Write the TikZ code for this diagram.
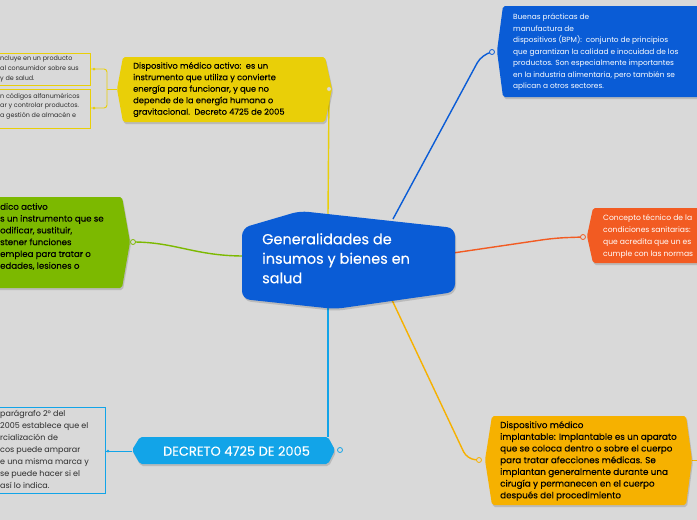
\documentclass[tikz,border=0pt]{standalone}
\usepackage{fontspec}
\setmainfont{Poppins}
\newfontfamily\medfont{Poppins}[FakeBold=0.2]
\definecolor{bg}{HTML}{D9D9D9}
\definecolor{cblue}{HTML}{0A5CD6}
\definecolor{cyellow}{HTML}{E9CF08}
\definecolor{cgreen}{HTML}{7CB900}
\definecolor{corange}{HTML}{F25B22}
\definecolor{camber}{HTML}{F6B100}
\definecolor{clight}{HTML}{12A4E8}
\definecolor{ctext}{HTML}{2B2B2B}
\begin{document}
\begin{tikzpicture}[x=1pt,y=-1pt,
  shadowed/.style={preaction={fill=black,opacity=0.14,transform canvas={xshift=1pt,yshift=-2pt}}},
  topic/.style={rounded corners=2pt,shadowed},
  txt/.style={anchor=north west,inner sep=0pt,align=left},
  conn/.style={line width=1.4pt},
  subconn/.style={line width=0.9pt},
  ring/.style={circle,draw,fill=bg,line width=0.8pt,minimum size=5pt,inner sep=0pt},
  smalldot/.style={circle,fill,minimum size=3pt,inner sep=0pt},
  subbox/.style={line width=1pt}]
\useasboundingbox (0,0) rectangle (697,520);
\fill[bg] (0,0) rectangle (697,520);
\clip (0,0) rectangle (697,520);

% named connection points
\coordinate (cTop) at (328,215);
\coordinate (cBot) at (328,305);
\coordinate (cTR) at (393,219);
\coordinate (cR) at (453,253);
\coordinate (cBR) at (392,300);
\coordinate (cL) at (244,256);
\coordinate (yTip) at (329,89);
\coordinate (yLeft) at (117,89);
\coordinate (yFork) at (107,89);
\coordinate (gTip) at (133,242);
\coordinate (bTip) at (492,52);
\coordinate (oTip) at (583,237);
\coordinate (aTip) at (479,460);
\coordinate (aRight) at (692,460);
\coordinate (aOut) at (700,460);
\coordinate (dTop) at (328,437);
\coordinate (dTip) at (340,450);
\coordinate (dLeft) at (132,451);
\coordinate (dBox) at (105,451);
\coordinate (b1) at (91,69);
\coordinate (b2) at (91,108);

% connectors
\draw[conn,cyellow] (cTop) -- (329,94);
\draw[conn,clight] (cBot) -- (dTop);
\draw[conn,cblue,rounded corners=10pt] (cTR) -- (482,54) -- (bTip);
\draw[conn,corange,rounded corners=12pt] (cR) -- (555,238) -- (oTip);
\draw[conn,camber,rounded corners=8pt] (cBR) -- (467,459) -- (aTip);
\draw[conn,cgreen] (cL) .. controls (195,256) and (175,242) .. (gTip);
\draw[subconn,cyellow] (yLeft) -- (yFork);
\draw[subconn,cyellow,rounded corners=3pt] (b1) -| (yFork) |- (b2);
\draw[subconn,camber] (aRight) -- (aOut);
\draw[subconn,clight] (dLeft) -- (dBox);

% sub boxes
\draw[subbox,cyellow] (-5,53) rectangle (90,85);
\draw[subbox,cyellow] (-5,89) rectangle (90,128);
\draw[subbox,clight] (-5,407) rectangle (105,493);

% topic shapes
\path[fill=cblue,rounded corners=8pt,shadowed] (242,228) -- (300,211) -- (455,228) -- (455,292) -- (335,309) -- (242,299) -- cycle;
\path[fill=cyellow,topic] (123,57) -- (325,57) -- (332,89) -- (325,122) -- (123,122) -- (117,89) -- cycle;
\path[fill=cgreen,topic] (-5,197) -- (122,197) -- (130,242) -- (122,288) -- (-5,288) -- cycle;
\path[fill=cblue,topic] (503,6) -- (705,6) -- (705,97) -- (503,97) -- (497,51) -- cycle;
\path[fill=corange,topic] (593,208) -- (705,208) -- (705,263) -- (593,263) -- (587,236) -- cycle;
\path[fill=camber,topic] (492,416) -- (686,416) -- (692,460) -- (686,505) -- (492,505) -- (485,460) -- cycle;
\path[fill=clight,topic] (140,437) -- (328,437) -- (335,450) -- (328,464) -- (140,464) -- (132,450) -- cycle;

% rings and dots
\node[ring,draw=cyellow] (ry) at (yTip) {};
\node[ring,draw=cgreen] (rg) at (gTip) {};
\node[ring,draw=cblue] (rb) at (bTip) {};
\node[ring,draw=corange] (ro) at (oTip) {};
\node[ring,draw=camber] (ra) at (aTip) {};
\node[ring,draw=clight] (rd) at (dTip) {};
\node[smalldot,fill=cyellow] (d1) at (94,69) {};
\node[smalldot,fill=cyellow] (d2) at (94,108) {};
\node[smalldot,fill=clight] (d3) at (108,451) {};

% texts
\node[txt,text=white,font={\medfont\fontsize{14.5}{19.5}\selectfont}] (tc) at (262,233)
 {Generalidades de\\insumos y bienes en\\salud};
\node[txt,text=black,font={\medfont\fontsize{8.3}{11.5}\selectfont}] (ty) at (133,62)
 {Dispositivo médico activo:\ \ es un\\instrumento que utiliza y convierte\\energía para funcionar, y que no\\depende de la energía humana o\\gravitacional.\ \ Decreto 4725 de 2005};
\node[txt,text=white,font={\fontsize{7.4}{11.5}\selectfont}] (tb) at (513,14)
 {Buenas prácticas de\\manufactura de\\dispositivos (BPM):\ \ conjunto de principios\\que garantizan la calidad e inocuidad de los\\productos. Son especialmente importantes\\en la industria alimentaria, pero también se\\aplican a otros sectores.};
\node[txt,text=white,font={\fontsize{7.6}{12}\selectfont}] (to) at (603,214)
 {Concepto técnico de la\\condiciones sanitarias:\\que acredita que un es\\cumple con las normas};
\node[txt,text=black,font={\medfont\fontsize{8.6}{11.8}\selectfont}] (tg) at (0,203)
 {dico activo\\s un instrumento que se\\odificar, sustituir,\\stener funciones\\emplea para tratar o\\edades, lesiones o};
\node[txt,text=black,font={\medfont\fontsize{8.8}{11.7}\selectfont}] (ta) at (500,421)
 {Dispositivo médico\\implantable: Implantable es un aparato\\que se coloca dentro o sobre el cuerpo\\para tratar afecciones médicas. Se\\implantan generalmente durante una\\cirugía y permanecen en el cuerpo\\después del procedimiento};
\node[inner sep=0pt,text=white,font={\medfont\fontsize{13}{15}\selectfont}] (td) at (236.5,451)
 {DECRETO 4725 DE 2005};
\node[txt,text=ctext,font={\fontsize{6.4}{9.6}\selectfont}] (tb1) at (0,56)
 {ncluye en un producto\\al consumidor sobre sus\\y de salud.};
\node[txt,text=ctext,font={\fontsize{6.4}{9.6}\selectfont}] (tb2) at (0,93)
 {n códigos alfanuméricos\\ar y controlar productos.\\a gestión de almacén e};
\node[txt,text=ctext,font={\fontsize{8}{12}\selectfont}] (tdb) at (0,410)
 {parágrafo 2° del\\2005 establece que el\\rcialización de\\cos puede amparar\\e una misma marca y\\se puede hacer si el\\así lo indica.};
\end{tikzpicture}
\end{document}
